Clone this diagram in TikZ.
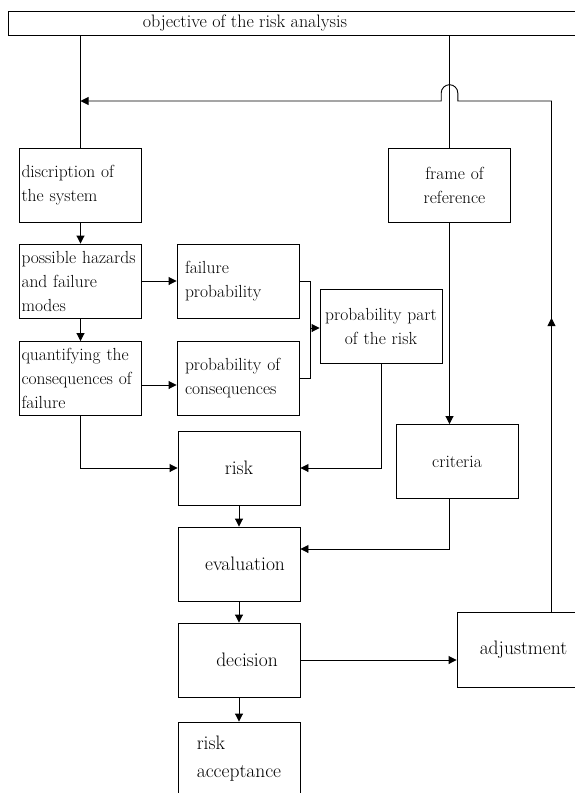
\documentclass[tikz,border=0pt]{standalone}
\usepackage{fontspec}
\usetikzlibrary{arrows.meta}

\tikzset{
  box/.style={draw, rectangle, minimum width=122pt, minimum height=74pt, inner xsep=2pt,
    font=\fontsize{17.5}{24}\selectfont},
  lbox/.style={box, text width=118pt, align=left},
  cbox/.style={box, align=center, font=\fontsize{19.5}{28}\selectfont},
  arr/.style={-{Triangle[length=8pt,width=8pt]}},
}

\begin{document}
\begin{tikzpicture}[x=1pt, y=-1pt, line width=0.9pt]
  \useasboundingbox (0,0) rectangle (574,793);
  % \draw [help lines] (0,0) grid (574,793);

  \node (obj) [draw, minimum width=582pt, minimum height=24pt, inner sep=0pt,
    label={[xshift=-54pt, font=\fontsize{18}{20}\selectfont]center:objective of the risk analysis}] at (299,23) {};

  \node (desc) [lbox] at (80.5,185) {discription of\\the system};
  \node (hazard) [lbox] at (80.5,281) {possible hazards\\and failure\\modes};
  \node (quant) [lbox] at (80.5,378.5) {quantifying the\\consequences of\\failure};
  \node (failprob) [lbox, inner xsep=8pt, text width=106pt] at (238,281) {failure\\probability};
  \node (probcons) [lbox, inner xsep=8pt, text width=106pt] at (238,378.5) {probability of\\consequences};
  \node (probpart) [box, text width=118pt, align=center] at (381,326.5) {probability part\\of the risk};
  \node (frame) [box, text width=118pt, align=center] at (449.5,185.5) {\hspace*{10pt}frame of\\\hspace*{10pt}reference};
  \node (risk) [cbox] at (239,468) {risk};
  \node (criteria) [box] at (457,461.5) {criteria};
  \node (eval) [cbox] at (239,564) {\hspace*{12pt}evaluation};
  \node (decision) [cbox] at (239,660) {\hspace*{16pt}decision};
  \node (accept) [cbox, align=left] at (239,759) {risk\\acceptance};
  \node (adjust) [cbox, minimum width=133pt, minimum height=75pt] at (523.5,649.5) {adjustment};

  \draw (obj.south -| desc.north) -- (desc.north);
  \draw (obj.south -| frame.north) -- (frame.north);
  \draw [arr] (desc) -- (hazard);
  \draw [arr] (hazard) -- (quant);
  \draw [arr] (hazard) -- (failprob);
  \draw [arr] ([yshift=-6.5pt]quant.east) -- ([yshift=-6.5pt]quant.east -| probcons.west);
  \draw (failprob.east) -- ++(11pt,0pt) |- (probcons.east);
  \coordinate (brk) at (310,328);
  \draw [arr] (brk) -- (brk -| probpart.west);
  \draw [arr] (quant.south) |- (risk.west);
  \draw [arr] (probpart.south) |- (risk.east);
  \draw [arr] (frame.south) -- (frame.south |- criteria.north);
  \draw [arr] (criteria.south -| frame.south) |- ([yshift=15pt]eval.east);
  \draw [arr] (risk) -- (eval);
  \draw [arr] (eval) -- (decision);
  \draw [arr] (decision) -- (accept);
  \draw [arr] (decision.east) -- (decision.east -| adjust.west);

  % feedback from adjustment
  \coordinate (turn) at (551.5,101);
  \coordinate (jump) at (449.5,101);
  \coordinate (upmark) at (551.5,318);
  \draw [arr] (turn |- adjust.north) -- (upmark);
  \draw [arr] (turn |- adjust.north) -- (turn) -- ([xshift=8.3pt]jump) -- ++(0pt,8pt)
    arc [start angle=0, end angle=180, radius=8.3pt] -- ++(0pt,-8pt) -- (turn -| desc.north);
\end{tikzpicture}
\end{document}
